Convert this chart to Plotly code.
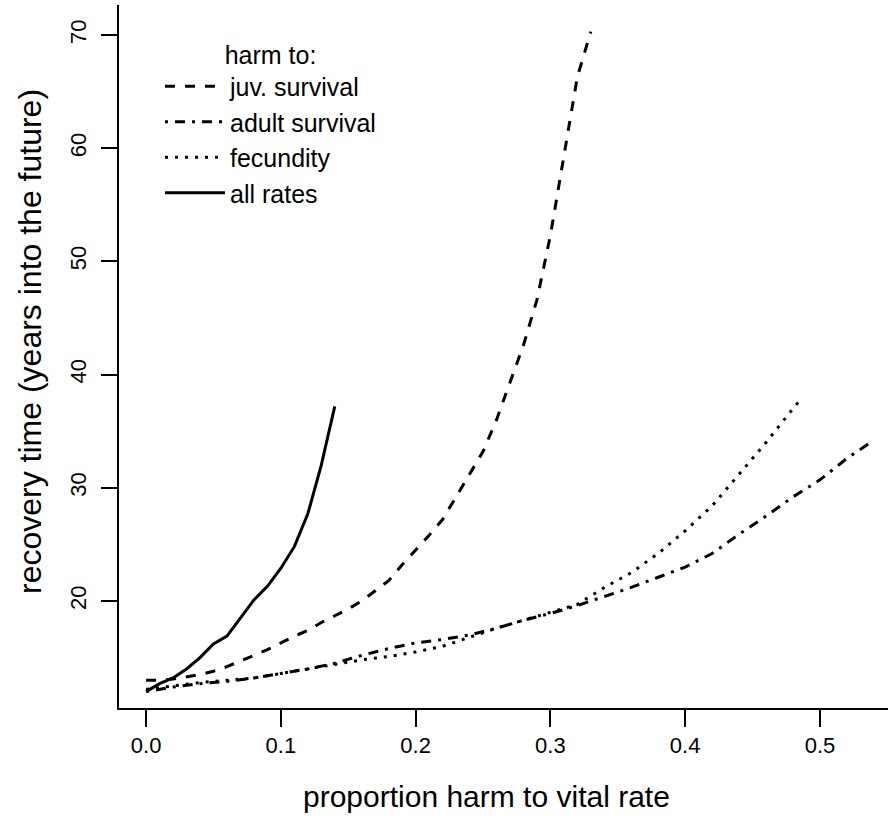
import plotly.graph_objects as go

# ---- data ----
juv_x = [0.00, 0.01, 0.02, 0.03, 0.04, 0.05, 0.06, 0.07, 0.08, 0.09, 0.10, 0.11,
         0.12, 0.13, 0.14, 0.15, 0.16, 0.17, 0.18, 0.19, 0.20, 0.21, 0.22, 0.23,
         0.24, 0.25, 0.26, 0.27, 0.28, 0.29, 0.30, 0.31, 0.32, 0.33]
juv_y = [13.0, 13.0, 13.1, 13.3, 13.5, 13.8, 14.2, 14.7, 15.2, 15.7, 16.3, 16.9,
         17.4, 18.1, 18.7, 19.3, 20.0, 20.9, 21.8, 23.2, 24.5, 25.8, 27.2, 29.2,
         31.2, 33.2, 36.0, 39.3, 42.6, 46.6, 52.3, 59.3, 66.3, 70.3]

adult_x = [0.00, 0.02, 0.04, 0.06, 0.08, 0.10, 0.12, 0.14, 0.16, 0.18, 0.20, 0.22,
           0.24, 0.26, 0.28, 0.30, 0.32, 0.34, 0.36, 0.38, 0.40, 0.42, 0.44, 0.46,
           0.48, 0.50, 0.52, 0.54]
adult_y = [12.0, 12.4, 12.7, 12.9, 13.2, 13.6, 14.0, 14.5, 15.2, 15.8, 16.3, 16.6,
           17.0, 17.6, 18.3, 18.9, 19.6, 20.4, 21.2, 22.1, 23.0, 24.2, 25.9, 27.5,
           29.2, 30.7, 32.6, 34.2]

fec_x = [0.00, 0.02, 0.04, 0.06, 0.08, 0.10, 0.12, 0.14, 0.16, 0.18, 0.20, 0.22,
         0.24, 0.26, 0.28, 0.30, 0.32, 0.34, 0.36, 0.38, 0.40, 0.42, 0.44, 0.46,
         0.48, 0.485]
fec_y = [12.2, 12.5, 12.8, 13.0, 13.2, 13.6, 14.0, 14.4, 14.8, 15.1, 15.5, 16.0,
         16.8, 17.6, 18.3, 19.0, 19.7, 21.2, 22.5, 24.2, 26.2, 28.4, 31.2, 34.0,
         37.0, 37.7]

all_x = [0.00, 0.01, 0.02, 0.03, 0.04, 0.05, 0.06, 0.07, 0.08, 0.09, 0.10, 0.11,
         0.12, 0.13, 0.14]
all_y = [12.0, 12.7, 13.2, 14.0, 15.0, 16.2, 16.9, 18.5, 20.1, 21.3, 22.9, 24.8,
         27.7, 32.0, 37.2]

series_names = ["juv. survival", "adult survival", "fecundity", "all rates"]
x_ticks = [0.0, 0.1, 0.2, 0.3, 0.4, 0.5]
x_tick_labels = ["0.0", "0.1", "0.2", "0.3", "0.4", "0.5"]
y_ticks = [20, 30, 40, 50, 60, 70]
y_tick_labels = ["20", "30", "40", "50", "60", "70"]

FONT = "Liberation Sans, Arial, sans-serif"
LW = 3

L, R, T, B = 119, 2, 5, 108
PW = 890 - L - R
PH = 816 - T - B

fig = go.Figure()
fig.add_trace(go.Scatter(x=juv_x, y=juv_y, mode="lines", name=series_names[0],
                         line=dict(color="black", width=LW, dash="10px,10px")))
fig.add_trace(go.Scatter(x=adult_x, y=adult_y, mode="lines", name=series_names[1],
                         line=dict(color="black", width=LW, dash="3px,7px,10px,7px")))
fig.add_trace(go.Scatter(x=fec_x, y=fec_y, mode="lines", name=series_names[2],
                         line=dict(color="black", width=LW, dash="3px,7px")))
fig.add_trace(go.Scatter(x=all_x, y=all_y, mode="lines", name=series_names[3],
                         line=dict(color="black", width=LW)))

fig.update_layout(
    width=890, height=816,
    margin=dict(l=L, r=R, t=T, b=B),
    paper_bgcolor="white", plot_bgcolor="white",
    font=dict(family=FONT, size=22, color="black"),
    showlegend=True,
    legend=dict(
        x=(160 - L) / PW, y=(708 - 31) / PH, xanchor="left", yanchor="top",
        bgcolor="rgba(0,0,0,0)",
        itemwidth=60,
        font=dict(family=FONT, size=25, color="black"),
        title=dict(text="harm to:", side="top center",
                   font=dict(family=FONT, size=25, color="black")),
        tracegroupgap=0,
    ),
    xaxis=dict(
        range=[-0.0201, 0.5505], showgrid=False, zeroline=False, automargin=False,
        showline=True, linecolor="black", linewidth=1.5,
        ticks="outside", ticklen=17, tickwidth=1.5, tickcolor="black",
        tickvals=x_ticks, ticktext=x_tick_labels,
        tickfont=dict(family=FONT, size=22, color="black"),
    ),
    yaxis=dict(
        range=[10.55, 72.65], showgrid=False, zeroline=False, automargin=False,
        showline=True, linecolor="black", linewidth=1.5,
        ticks="outside", ticklen=16, tickwidth=1.5, tickcolor="black",
        tickvals=y_ticks, ticktext=y_tick_labels, tickangle=-90,
        ticklabelstandoff=6,
        tickfont=dict(family=FONT, size=22, color="black"),
    ),
    annotations=[
        dict(text="proportion harm to vital rate", xref="paper", yref="paper",
             x=(486 - L) / PW, y=-(796 - 708) / PH, xanchor="center", yanchor="middle",
             showarrow=False, font=dict(family=FONT, size=30, color="black")),
        dict(text="recovery time (years into the future)", xref="paper", yref="paper",
             x=-(L - 30) / PW, y=(708 - 342) / PH, xanchor="center", yanchor="middle",
             textangle=-90, showarrow=False, font=dict(family=FONT, size=32, color="black")),
    ],
)

fig.write_html("out.html", config={"displayModeBar": False},
               post_script="document.body.style.margin='0px';")
